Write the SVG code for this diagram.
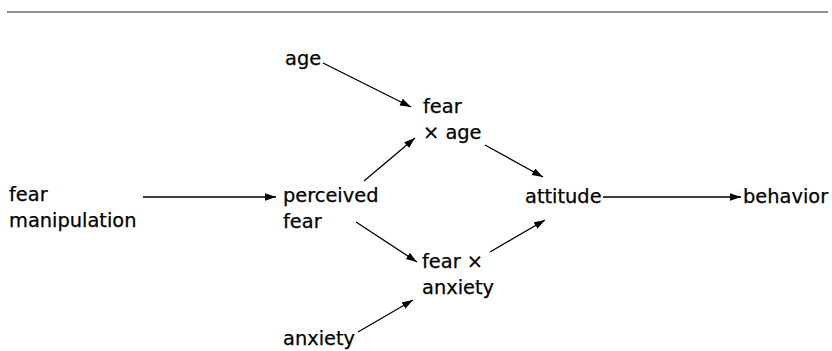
<svg xmlns="http://www.w3.org/2000/svg" width="832" height="351" viewBox="0 0 832 351">
<style>
text { font-family: "DejaVu Sans", "Liberation Sans", sans-serif; font-size: 19.4px; fill: #000; stroke: #000; stroke-width: 0.25; }
.c { stroke: #000; stroke-width: 1.3; fill: none; marker-end: url(#ah); }
</style>
<defs>
<marker id="ah" markerUnits="userSpaceOnUse" markerWidth="12" markerHeight="8" refX="11" refY="3.75" orient="auto">
<path d="M0,0 L11,3.75 L0,7.5 z" fill="#000"/>
</marker>
</defs>
<rect width="832" height="351" fill="#fff"/>
<line x1="7" y1="12" x2="828" y2="12" stroke="#222" stroke-width="1.2"/>
<g id="n-fear-manipulation"><text x="9" y="201">fear</text><text x="9" y="227">manipulation</text></g>
<g id="n-perceived-fear"><text x="283" y="202">perceived</text><text x="283" y="228">fear</text></g>
<g id="n-age"><text x="285" y="65">age</text></g>
<g id="n-fear-x-age"><text x="423" y="113">fear</text><text x="423" y="139">× age</text></g>
<g id="n-fear-x-anxiety"><text x="422" y="268">fear ×</text><text x="422" y="294">anxiety</text></g>
<g id="n-anxiety"><text x="283" y="345">anxiety</text></g>
<g id="n-attitude"><text x="525" y="203">attitude</text></g>
<g id="n-behavior"><text x="743" y="203">behavior</text></g>
<g id="connectors">
<line class="c" x1="143" y1="197" x2="276" y2="197"/>
<line class="c" x1="323" y1="63" x2="411" y2="107"/>
<line class="c" x1="364" y1="181" x2="415" y2="138"/>
<line class="c" x1="356" y1="222" x2="417" y2="262"/>
<line class="c" x1="358" y1="332" x2="413" y2="300"/>
<line class="c" x1="485" y1="145" x2="543" y2="177"/>
<line class="c" x1="490" y1="252" x2="545" y2="220"/>
<line class="c" x1="603" y1="197" x2="741" y2="197"/>
</g>
</svg>
